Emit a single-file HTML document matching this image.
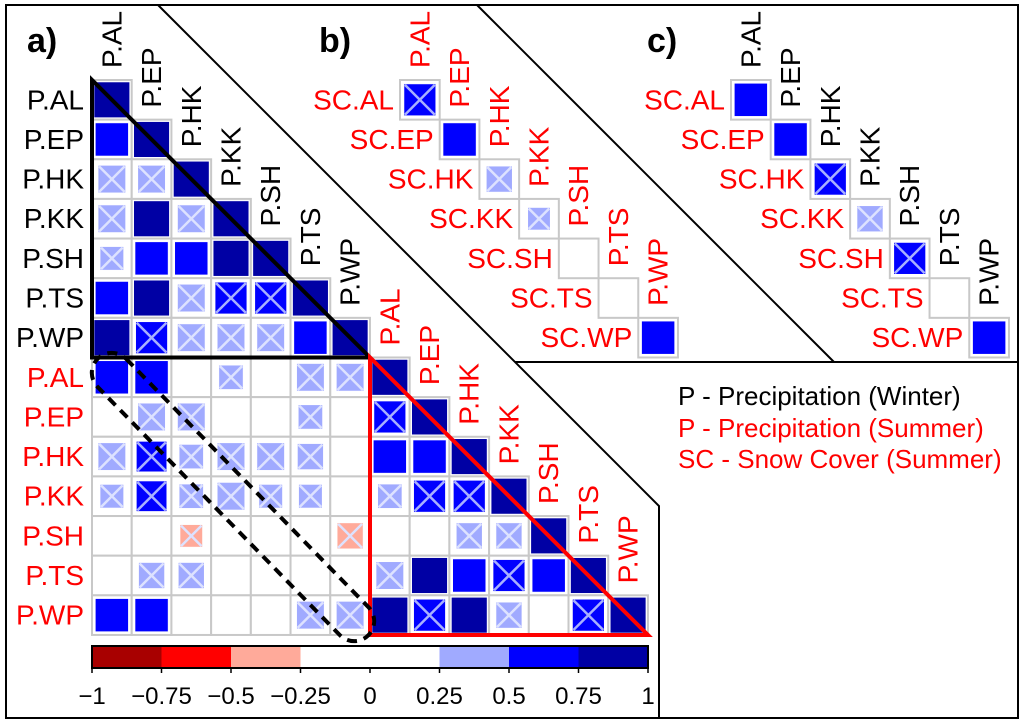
<!DOCTYPE html>
<html><head><meta charset="utf-8"><style>
html,body{margin:0;padding:0;background:#fff;}
svg{display:block;font-family:"Liberation Sans",Arial,sans-serif;}
</style></head><body>
<svg id="fig" width="1024" height="726" viewBox="0 0 1024 726">
<g id="frame" fill="none" stroke="#000" stroke-width="2">
<rect x="6" y="5" width="1012" height="713"/>
<polyline points="158,5 659,506 659,718"/>
<line x1="477" y1="5" x2="834" y2="362"/>
<line x1="515" y1="362" x2="1018" y2="362"/>
</g>
<text x="27" y="52" font-size="34" font-weight="bold">a)</text>
<text x="319" y="52" font-size="34" font-weight="bold">b)</text>
<text x="647" y="52" font-size="34" font-weight="bold">c)</text>
<g id="cells"></g>
<g id="labels"></g>
<g fill="none" stroke="#000" stroke-width="4">
<polygon points="92,80 92,357.5 370,357.5"/>
</g>
<g fill="none" stroke="#f00" stroke-width="4">
<polygon points="370,357.5 370,635 648,635"/>
</g>
<rect x="-193.5" y="-20" width="387" height="40" rx="20" transform="translate(233,497) rotate(45.7)" fill="none" stroke="#000" stroke-width="4" stroke-dasharray="10,7"/>
<g id="cbar"></g>
<g font-size="26">
<text x="678" y="405" fill="#000">P - Precipitation (Winter)</text>
<text x="678" y="437" fill="#f00">P - Precipitation (Summer)</text>
<text x="678" y="468" fill="#f00">SC - Snow Cover (Summer)</text>
</g>
</svg>
<script>
const regions = ["AL","EP","HK","KK","SH","TS","WP"];
const matA = [
[0.9],
[0.65,0.9],
[0.45,0.45,0.9],
[0.45,0.85,0.45,0.9],
[0.33,0.65,0.65,0.85,0.9],
[0.65,0.85,0.45,0.6,0.6,0.9],
[0.85,0.6,0.45,0.45,0.45,0.65,0.9],
[0.65,0.65,0.1,0.35,0.1,0.45,0.45,0.9],
[0.1,0.45,0.45,0.1,0.1,0.35,0.1,0.6,0.9],
[0.45,0.55,0.35,0.45,0.45,0.4,0.1,0.65,0.65,0.9],
[0.33,0.55,0.35,0.45,0.33,0.33,0.1,0.35,0.6,0.6,0.9],
[0.1,0.05,-0.3,0.1,0.05,0.1,-0.4,0.1,0.1,0.4,0.4,0.9],
[0.1,0.4,0.4,0.1,0.1,0.1,0.05,0.45,0.85,0.65,0.6,0.65,0.9],
[0.65,0.65,0.1,0.1,0.05,0.45,0.45,0.85,0.6,0.85,0.4,0.1,0.6,0.9]
];
const crossA = [
[0],
[0,0],
[1,1,0],
[1,0,1,0],
[1,0,0,0,0],
[0,0,1,1,1,0],
[0,1,1,1,1,0,0],
[0,0,0,1,0,1,1,0],
[0,1,1,0,0,1,0,1,0],
[1,1,1,1,1,1,0,0,0,0],
[1,1,1,1,1,1,0,1,1,1,0],
[0,0,1,0,0,0,1,0,0,1,1,0],
[0,1,1,0,0,0,0,1,0,0,1,0,0],
[0,0,0,0,0,1,1,0,1,0,1,0,1,0]
];
const valsB = [0.6,0.65,0.4,0.3,0.1,0.1,0.65];
const crossB = [1,0,1,1,0,0,0];
const valsC = [0.65,0.65,0.6,0.4,0.6,0.1,0.65];
const crossC = [0,0,1,1,1,0,0];
const cbarTicks = [-1,-0.75,-0.5,-0.25,0,0.25,0.5,0.75,1];
const cbarLabels = ["\u22121","\u22120.75","\u22120.5","\u22120.25","0","0.25","0.5","0.75","1"];

const NS="http://www.w3.org/2000/svg";
const CW=39.71, CH=39.64;
const FS=28;
function color(v){
  if(v>=0.75) return "#0000a4";
  if(v>=0.5) return "#0000ff";
  if(v>=0.25) return "#a0aaff";
  if(v>-0.25) return "#ffffff";
  if(v>-0.5) return "#ffaa9a";
  if(v>-0.75) return "#ff0000";
  return "#a80000";
}
function el(tag,attrs,parent){const e=document.createElementNS(NS,tag);for(const k in attrs)e.setAttribute(k,attrs[k]);parent.appendChild(e);return e;}
const cells=document.getElementById('cells');
function drawCell(x0,y0,v,cr,name){
  const g=el('g',{},cells);
  
  
  el('rect',{x:x0,y:y0,width:CW,height:CH,fill:'#fff',stroke:'#c8c8c8','stroke-width':2},g);
  if(Math.abs(v)<0.25) return;
  const full=CW-4;
  const s=full*Math.min(1,Math.sqrt(Math.abs(v))*1.15);
  const cx=x0+CW/2, cy=y0+CH/2;
  el('rect',{x:cx-s/2,y:cy-s/2,width:s,height:s,fill:color(v),stroke:'#fff','stroke-width':0.6},g);
  if(cr){
    const lc = Math.abs(v)>=0.5 ? '#a8b0ff' : '#dde2ff';
    const h=s/2-1;
    el('line',{x1:cx-h,y1:cy-h,x2:cx+h,y2:cy+h,stroke:lc,'stroke-width':2.5},g);
    el('line',{x1:cx-h,y1:cy+h,x2:cx+h,y2:cy-h,stroke:lc,'stroke-width':2.5},g);
  }
}
const AX=92, AY=80;
for(let r=0;r<matA.length;r++){
  for(let c=0;c<=r;c++){
    drawCell(AX+c*CW,AY+r*CH,matA[r][c],crossA[r][c],'cell-a-'+r+'-'+c);
  }
}
const BX=400, CX=731;
for(let i=0;i<valsB.length;i++){
  drawCell(BX+i*CW,AY+i*CH,valsB[i],crossB[i],'cell-b-'+regions[i]);
  drawCell(CX+i*CW,AY+i*CH,valsC[i],crossC[i],'cell-c-'+regions[i]);
}
const labels=document.getElementById('labels');
function rowLabel(x,y,txt,fill,name){
  const t=el('text',{x:x,y:y,'text-anchor':'end','dominant-baseline':'central','font-size':FS,fill:fill},labels);
  t.textContent=txt;
  
  
}
function colLabel(x,y,txt,fill,name){
  const t=el('text',{x:0,y:0,'text-anchor':'start','dominant-baseline':'central','font-size':FS,fill:fill,transform:'translate('+x+','+y+') rotate(-90)'},labels);
  t.textContent=txt;
  
  
}
for(let r=0;r<14;r++){
  const reg=regions[r%7];
  const fill=r<7?'#000':'#f00';
  rowLabel(AX-8,AY+r*CH+CH/2,'P.'+reg,fill,'row-label-a-'+r);
  colLabel(AX+r*CW+CW/2,AY+r*CH-12,'P.'+reg,fill,'col-label-a-'+r);
}
for(let i=0;i<7;i++){
  rowLabel(BX+i*CW-6,AY+i*CH+CH/2,'SC.'+regions[i],'#f00','row-label-b-'+i);
  colLabel(BX+i*CW+CW/2,AY+i*CH-12,'P.'+regions[i],'#f00','col-label-b-'+i);
  rowLabel(CX+i*CW-6,AY+i*CH+CH/2,'SC.'+regions[i],'#f00','row-label-c-'+i);
  colLabel(CX+i*CW+CW/2,AY+i*CH-12,'P.'+regions[i],'#000','col-label-c-'+i);
}
const cb=document.getElementById('cbar');
const CB0=92, CB1=648, CBY=646, CBH=22;
const sx=v=>CB0+(v+1)/2*(CB1-CB0);
for(let i=0;i<cbarTicks.length-1;i++){
  const a=cbarTicks[i], b=cbarTicks[i+1];
  const r=el('rect',{x:sx(a),y:CBY,width:sx(b)-sx(a)+0.5,height:CBH,fill:color((a+b)/2)},cb);
  
  
}
el('rect',{x:CB0,y:CBY,width:CB1-CB0,height:CBH,fill:'none',stroke:'#000','stroke-width':2},cb);
for(let i=0;i<cbarTicks.length;i++){
  const x=sx(cbarTicks[i]);
  el('line',{x1:x,y1:CBY+CBH,x2:x,y2:CBY+CBH+5,stroke:'#000','stroke-width':1.5},cb);
  const t=el('text',{x:x,y:704,'text-anchor':'middle','font-size':24,fill:'#000'},cb);
  t.textContent=cbarLabels[i];
  
  
}
</script>
</body></html>
